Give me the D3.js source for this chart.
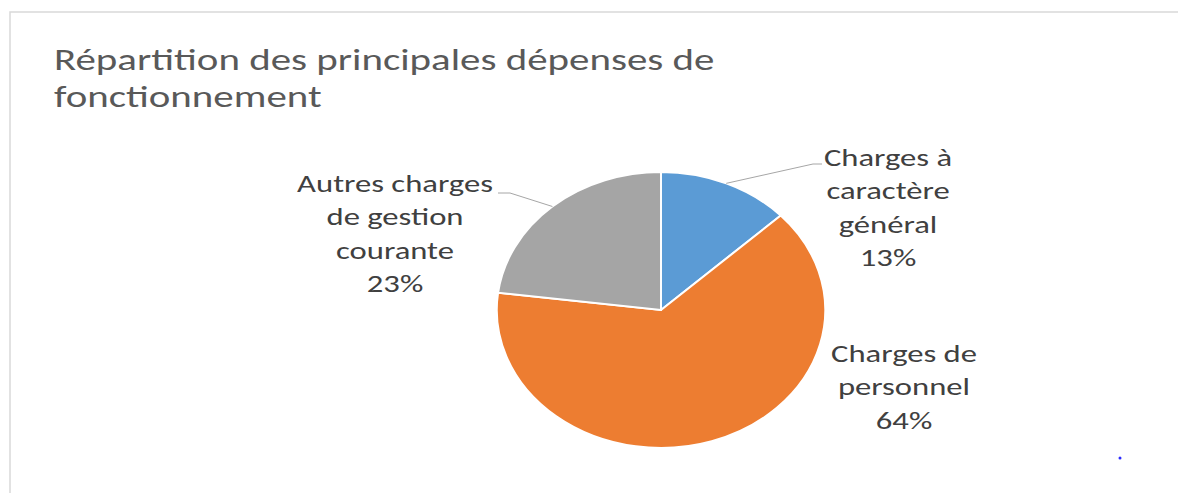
<!DOCTYPE html>
<html>
<head>
<meta charset="utf-8">
<script src="https://cdn.jsdelivr.net/npm/d3@7"></script>
<style>
  html, body { margin: 0; padding: 0; background: #fff; overflow: hidden; }
  text { font-family: Carlito, Calibri, Lato, sans-serif; }
</style>
</head>
<body>
<div id="chart"></div>
<script>
// ── 데이터 ──────────────────────────────────────────────
const titleLines = ['Répartition des principales dépenses de', 'fonctionnement'];
const categories = ['Charges à caractère général', 'Charges de personnel', 'Autres charges de gestion courante'];
const values = [13, 64, 23];
const labelLines = [
  ['Charges à', 'caractère', 'général'],
  ['Charges de', 'personnel'],
  ['Autres charges', 'de gestion', 'courante'],
];
const colors = ['#5b9bd5', '#ed7d31', '#a5a5a5'];

// ── 레이아웃 ────────────────────────────────────────────
const W = 1178, H = 493;
const SX = 1.19;              // 원본이 가로로 늘어나 있음
const TITLE_SX = 1.32;
const LABEL_SX = 1.36;
const cx = 661, cy = 310, R = 138;
const LINE_H = 33.5;
// 화면 좌표 기준 라벨 위치 (중앙 x, 첫 줄 baseline)
const labelPos = [
  { x: 888, y: 166, leader: [[813, 164], [822, 164]] },
  { x: 904, y: 362, leader: null },
  { x: 395, y: 192, leader: [[510, 193], [498, 193]] },
];

const svg = d3.select('#chart').append('svg')
  .attr('width', W).attr('height', H);

// 차트 영역 테두리
svg.append('rect')
  .attr('x', 10).attr('y', 12)
  .attr('width', W + 20).attr('height', H + 20)
  .attr('fill', '#fff')
  .attr('stroke', '#d9d9d9')
  .attr('stroke-width', 1.5);

// 제목
svg.append('text')
  .attr('transform', `translate(54,70) scale(${TITLE_SX},1)`)
  .attr('fill', '#595959')
  .style('font-size', '31px')
  .selectAll('tspan')
  .data(titleLines)
  .join('tspan')
  .attr('x', 0)
  .attr('y', (d, i) => i * 37)
  .text(d => d);

// 파이
const pie = d3.pie().sort(null).value(d => d);
const arc = d3.arc().innerRadius(0).outerRadius(R);
const arcs = pie(values);

const pg = svg.append('g').attr('transform', `translate(${cx},${cy}) scale(${SX},1)`);
pg.selectAll('path')
  .data(arcs)
  .join('path')
  .attr('d', arc)
  .attr('fill', (d, i) => colors[i])
  .attr('stroke', '#fff')
  .attr('stroke-width', 2)
  .attr('vector-effect', 'non-scaling-stroke');

// 리더 라인
arcs.forEach((d, i) => {
  const lp = labelPos[i];
  if (!lp.leader) return;
  const a = (d.startAngle + d.endAngle) / 2;
  const start = [cx + R * SX * Math.sin(a), cy - R * Math.cos(a)];
  svg.append('path')
    .attr('d', d3.line()([start, ...lp.leader]))
    .attr('fill', 'none')
    .attr('stroke', '#a6a6a6')
    .attr('stroke-width', 1);
});

// 데이터 라벨
const total = d3.sum(values);
arcs.forEach((d, i) => {
  const lp = labelPos[i];
  const lines = [...labelLines[i], `${Math.round(values[i] / total * 100)}%`];
  svg.append('text')
    .attr('transform', `translate(${lp.x},${lp.y}) scale(${LABEL_SX},1)`)
    .attr('fill', '#404040')
    .attr('text-anchor', 'middle')
    .style('font-size', '24px')
    .selectAll('tspan')
    .data(lines)
    .join('tspan')
    .attr('x', 0)
    .attr('y', (t, j) => j * LINE_H)
    .text(t => t);
});

// 오른쪽 아래 작은 점
svg.append('circle')
  .attr('cx', 1120).attr('cy', 458).attr('r', 1.5)
  .attr('fill', '#2b2bff');
</script>
</body>
</html>
